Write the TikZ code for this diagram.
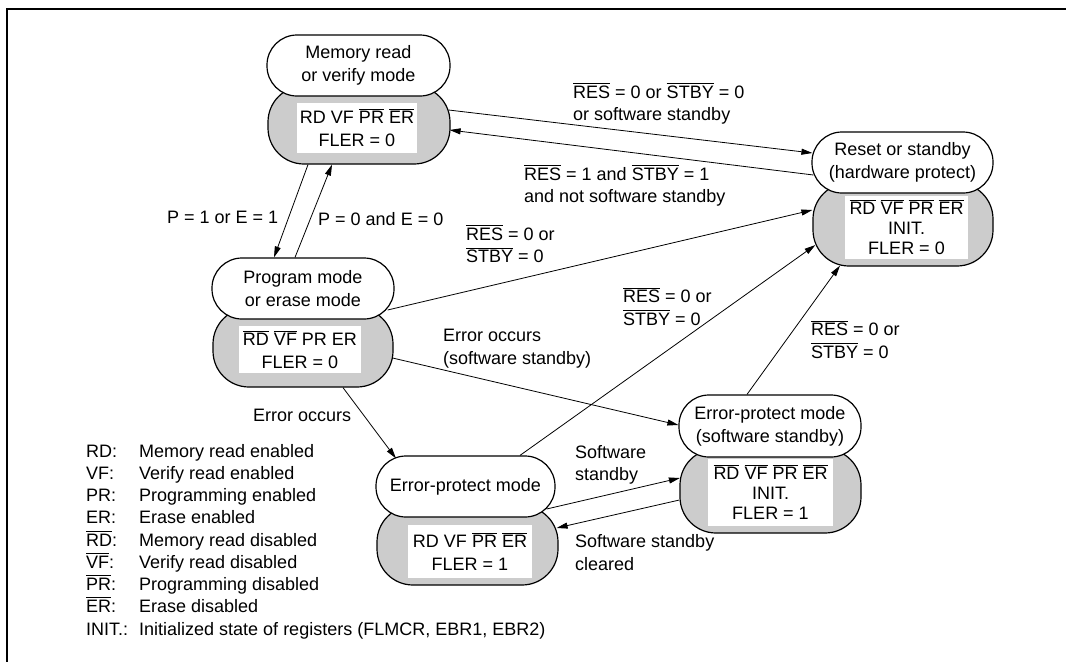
\documentclass[tikz,border=0pt]{standalone}
\usepackage{fontspec}
\setmainfont{Liberation Sans}
\usetikzlibrary{arrows.meta,calc}
\definecolor{stategray}{RGB}{204,204,204}
\newcommand\ovl[1]{\vbox{\hrule height .9pt\kern 1.4pt\hbox{#1}}}
\tikzset{
  wstate/.style={draw, line width=1.2pt, fill=white, rounded corners=30pt, inner sep=0pt, align=center,
                 font=\fontsize{18pt}{23pt}\selectfont},
  gstate/.style={draw, line width=1.2pt, fill=stategray, rounded corners=36pt, inner sep=0pt},
  ibox/.style={fill=white, inner sep=0pt, align=center, font=\fontsize{18pt}{23pt}\selectfont},
  ibox3/.style={ibox, font=\fontsize{18pt}{20pt}\selectfont},
  arr/.style={line width=0.8pt, -{Triangle[length=11pt,width=6pt]}},
  elabel/.style={anchor=west, align=left, inner sep=0pt, font=\fontsize{18pt}{22.5pt}\selectfont},
  leg/.style={anchor=base west, inner sep=0pt, font=\fontsize{18pt}{22pt}\selectfont},
  frameline/.style={line width=2pt}
}
\begin{document}
\begin{tikzpicture}[x=1pt, y=-1pt]
\useasboundingbox (0,0) rectangle (1066,662);
\fill[white] (0,0) rectangle (1066,662);
% frame
\coordinate (fTL) at (7,9);
\coordinate (fTR) at (1066,9);
\coordinate (fBL) at (7,662);
\draw[frameline] (fTR) -- (fTL) -- (fBL);

% Memory read or verify mode
\node[gstate, minimum width=182pt, minimum height=78pt] (memG) at (359,125) {};
\node[wstate, minimum width=183pt, minimum height=61pt] (memW) at (358.5,65.5) {Memory read\\or verify mode};
\node[ibox, minimum width=120pt, minimum height=50pt] (memI) at (357,128) {RD VF \ovl{PR} \ovl{ER}\\FLER = 0};

% Reset or standby
\node[gstate, minimum width=180pt, minimum height=83pt] (resetG) at (903,224.5) {};
\node[wstate, minimum width=181pt, minimum height=61pt] (resetW) at (902.5,162.5) {Reset or standby\\(hardware protect)};
\node[ibox3, minimum width=123pt, minimum height=63pt] (resetI) at (906.5,227) {\ovl{RD} \ovl{VF} \ovl{PR} \ovl{ER}\\INIT.\\FLER = 0};

% Program mode
\node[gstate, minimum width=180pt, minimum height=79pt] (progG) at (303,347.5) {};
\node[wstate, minimum width=182pt, minimum height=61pt] (progW) at (303,288.5) {Program mode\\or erase mode};
\node[ibox, minimum width=122pt, minimum height=47pt] (progI) at (300,349.5) {\ovl{RD} \ovl{VF} PR ER\\FLER = 0};

% Error-protect mode
\node[gstate, minimum width=181pt, minimum height=79pt] (epG) at (467.5,545.5) {};
\node[wstate, minimum width=179pt, minimum height=61pt] (epW) at (465.5,486.5) {Error-protect mode};
\node[ibox, minimum width=124pt, minimum height=53pt] (epI) at (470,551.5) {RD VF \ovl{PR} \ovl{ER}\\FLER = 1};

% Error-protect mode (software standby)
\node[gstate, minimum width=181pt, minimum height=84pt] (epsG) at (770.5,491) {};
\node[wstate, minimum width=182pt, minimum height=62pt] (epsW) at (770,426) {Error-protect mode\\(software standby)};
\node[ibox3, minimum width=125pt, minimum height=67pt] (epsI) at (770.5,492) {\ovl{RD} \ovl{VF} \ovl{PR} \ovl{ER}\\INIT.\\FLER = 1};

% connectors
\draw[arr] ($(memG.east)+(-2,-15)$) -- ($(resetW.west)+(1,-9.5)$);
\draw[arr] ($(resetW.west)+(2,12.5)$) -- ($(memG.east)+(-1,5)$);
\draw[arr] ($(memG.south)+(-51,0)$) -- ($(progW.north)+(-29,0)$);
\draw[arr] ($(progW.north)+(-8,0)$) -- ($(memG.south)+(-27,0)$);
\draw[arr] ($(progW.east)+(-7,21.5)$) -- ($(resetG.west)+(0,-14.5)$);
\draw[arr] ($(progG.east)+(-1,10.5)$) -- ($(epsW.west)+(0,-1)$);
\draw[arr] ($(progG.south)+(40,0)$) -- ($(epW.north)+(-69.5,3)$);
\draw[arr] ($(epW.north)+(54.5,0)$) -- ($(resetG.west)+(3,20.5)$);
\draw[arr] ($(epW.east)+(-9,22.5)$) -- ($(epsG.west)+(0.5,-13)$);
\draw[arr] ($(epsG.west)+(0,9)$) -- ($(epG.east)+(-2,-17.5)$);
\draw[arr] ($(epsW.north)+(-23,0)$) -- ($(resetG.south)+(-63,-1)$);

% connector labels
\node[elabel] (l1) at (573,104) {\ovl{RES} = 0 or \ovl{STBY} = 0\\or software standby};
\node[elabel] (l2) at (524,186) {\ovl{RES} = 1 and \ovl{STBY} = 1\\and not software standby};
\node[elabel] (l3) at (167,217) {P = 1 or E = 1};
\node[elabel] (l4) at (318,219) {P = 0 and E = 0};
\node[elabel] (l5) at (466,244) {\ovl{RES} = 0 or\\\ovl{STBY} = 0};
\node[elabel] (l6) at (443,348.5) {Error occurs\\(software standby)};
\node[elabel] (l7) at (253,415) {Error occurs};
\node[elabel] (l8) at (623,306.5) {\ovl{RES} = 0 or\\\ovl{STBY} = 0};
\node[elabel] (l9) at (811,339.5) {\ovl{RES} = 0 or\\\ovl{STBY} = 0};
\node[elabel] (l10) at (575,465) {Software\\standby};
\node[elabel] (l11) at (575,552.5) {Software standby\\cleared};

% legend
\node[leg] (k1) at (86,457) {RD:};
\node[leg] (d1) at (139,457) {Memory read enabled};
\node[leg] (k2) at (86,479) {VF:};
\node[leg] (d2) at (139,479) {Verify read enabled};
\node[leg] (k3) at (86,501) {PR:};
\node[leg] (d3) at (139,501) {Programming enabled};
\node[leg] (k4) at (86,523) {ER:};
\node[leg] (d4) at (139,523) {Erase enabled};
\node[leg] (k5) at (86,546) {\ovl{RD}:};
\node[leg] (d5) at (139,546) {Memory read disabled};
\node[leg] (k6) at (86,568) {\ovl{VF}:};
\node[leg] (d6) at (139,568) {Verify read disabled};
\node[leg] (k7) at (86,590) {\ovl{PR}:};
\node[leg] (d7) at (139,590) {Programming disabled};
\node[leg] (k8) at (86,612) {\ovl{ER}:};
\node[leg] (d8) at (139,612) {Erase disabled};
\node[leg] (k9) at (86,635) {INIT.:};
\node[leg] (d9) at (139,635) {Initialized state of registers (FLMCR, EBR1, EBR2)};
\end{tikzpicture}
\end{document}
